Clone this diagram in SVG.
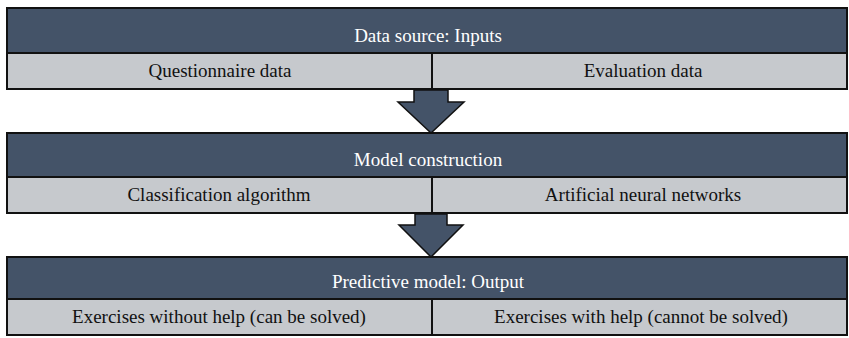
<svg xmlns="http://www.w3.org/2000/svg" width="849" height="338" viewBox="0 0 849 338">
<style>
.hdr{fill:#445368;stroke:#111;stroke-width:2}
.cell{fill:#c6c9cd;stroke:#111;stroke-width:2}
.ht{font-family:"Liberation Serif",serif;font-size:19px;fill:#fff;text-anchor:middle}
.ct{font-family:"Liberation Serif",serif;font-size:19px;fill:#111;text-anchor:middle}
.arr{fill:#445368;stroke:#111;stroke-width:1.5;stroke-linejoin:miter}
</style>
<rect width="849" height="338" fill="#fff"/>
<g id="block1">
<rect class="hdr" x="7" y="8" width="840" height="45"/>
<text class="ht" x="428" y="42">Data source: Inputs</text>
<rect class="cell" x="7" y="53" width="425" height="36"/>
<rect class="cell" x="432" y="53" width="415" height="36"/>
<text class="ct" x="220" y="77">Questionnaire data</text>
<text class="ct" x="643" y="77">Evaluation data</text>
</g>
<g id="block2">
<rect class="hdr" x="7" y="133" width="840" height="44"/>
<text class="ht" x="428" y="166">Model construction</text>
<rect class="cell" x="7" y="177" width="425" height="36"/>
<rect class="cell" x="432" y="177" width="415" height="36"/>
<text class="ct" x="219" y="201">Classification algorithm</text>
<text class="ct" x="643" y="201">Artificial neural networks</text>
</g>
<g id="block3">
<rect class="hdr" x="7" y="257" width="840" height="42"/>
<text class="ht" x="428" y="288">Predictive model: Output</text>
<rect class="cell" x="7" y="299" width="425" height="36"/>
<rect class="cell" x="432" y="299" width="415" height="36"/>
<text class="ct" x="219" y="323">Exercises without help (can be solved)</text>
<text class="ct" x="641" y="323">Exercises with help (cannot be solved)</text>
</g>
<g id="connectors">
<polygon class="arr" points="414,90 448,90 448,102 464,102 431,133 398,102 414,102"/>
<polygon class="arr" points="415,214 447,214 447,225 463,225 431,257 399,225 415,225"/>
</g>
</svg>
